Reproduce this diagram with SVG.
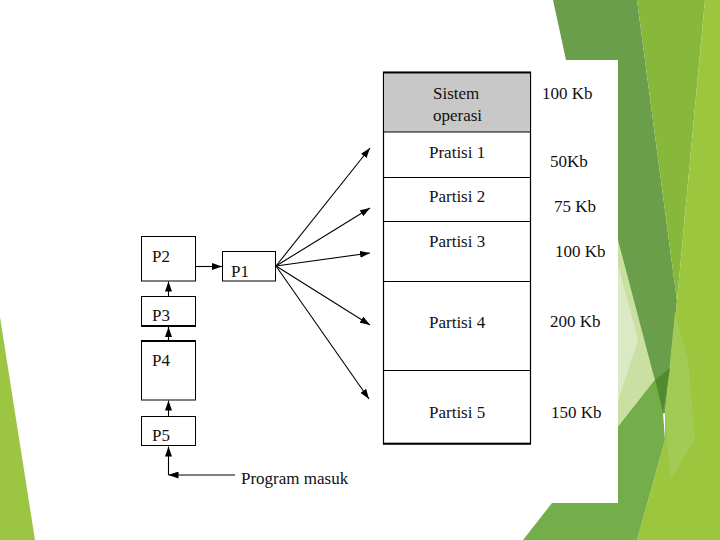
<svg xmlns="http://www.w3.org/2000/svg" width="720" height="540" viewBox="0 0 720 540">
<style>
.t{font-family:"Liberation Serif","Times New Roman",serif;font-size:17px;fill:#111}
.box{fill:#fff;stroke:#000;stroke-width:1}
.ln{fill:none;stroke:#000;stroke-width:1}
.c{fill:none;stroke:#000;stroke-width:1.1}
</style>
<defs>
<marker id="ah" viewBox="0 0 10 7" refX="10" refY="3.5" markerWidth="10" markerHeight="7" markerUnits="userSpaceOnUse" orient="auto">
<path d="M0,0 L10,3.5 L0,7 z" fill="#000"/>
</marker>
</defs>
<g id="background">
<rect width="720" height="540" fill="#fff"/>
<polygon points="553,0 637,0 677,301 665,413 618,430 566,60" fill="#6b9e4a"/>
<polygon points="637,0 705,0 677,301" fill="#88b83b"/>
<polygon points="705,0 720,0 720,540 637,540 665,440 665,413 677,301" fill="#9bc63d"/>
<polygon points="675,313 688,360 695,440 670,480 665,413" fill="#a1cb55"/>
<polygon points="618,240 653,373 655,380 618,427" fill="#c9e0a2"/>
<polygon points="618,265 638,340 618,400" fill="#dbe9c5"/>
<polygon points="655,380 670,368 663,413" fill="#4f8b2f"/>
<polygon points="523,540 552,503 618,503 618,427 655,380 663,413 665,440 637,540" fill="#74ae4b"/>
<polygon points="0,317 35,540 0,540" fill="#9dc544"/>
<rect x="120" y="60" width="498" height="443" fill="#fff"/>
</g>
<g id="memory">
<rect x="383.5" y="72.5" width="147" height="371" fill="#fff" stroke="#000" stroke-width="1.2"/>
<rect x="384" y="73.5" width="146" height="58.5" fill="#c8c8c8"/>
<line x1="383" y1="72.5" x2="531" y2="72.5" stroke="#000" stroke-width="2"/>
<line x1="383" y1="443.8" x2="531" y2="443.8" stroke="#000" stroke-width="2"/>
<line class="ln" x1="383.5" y1="132" x2="530.5" y2="132"/>
<line class="ln" x1="383.5" y1="177.5" x2="530.5" y2="177.5"/>
<line class="ln" x1="383.5" y1="221.5" x2="530.5" y2="221.5"/>
<line class="ln" x1="383.5" y1="281.5" x2="530.5" y2="281.5"/>
<line class="ln" x1="383.5" y1="370.5" x2="530.5" y2="370.5"/>
</g>
<g id="os"><text class="t" x="433" y="99">Sistem</text><text class="t" x="433" y="121">operasi</text></g>
<g id="partisi1"><text class="t" x="429" y="158">Pratisi 1</text></g>
<g id="partisi2"><text class="t" x="429" y="202">Partisi 2</text></g>
<g id="partisi3"><text class="t" x="429" y="247">Partisi 3</text></g>
<g id="partisi4"><text class="t" x="429" y="328">Partisi 4</text></g>
<g id="partisi5"><text class="t" x="429" y="418">Partisi 5</text></g>
<g id="sizes">
<text class="t" x="542" y="99">100 Kb</text>
<text class="t" x="550" y="167">50Kb</text>
<text class="t" x="554" y="212">75 Kb</text>
<text class="t" x="555" y="257">100 Kb</text>
<text class="t" x="550" y="327">200 Kb</text>
<text class="t" x="551" y="418">150 Kb</text>
</g>
<g id="p2"><rect class="box" x="141.5" y="236.5" width="54" height="44.5"/><text class="t" x="152" y="262">P2</text></g>
<g id="p1"><rect class="box" x="222.5" y="251.5" width="53" height="29.5"/><text class="t" x="231" y="277">P1</text></g>
<g id="p3"><rect class="box" x="141.5" y="296.5" width="54" height="29.5"/><line x1="141" y1="326" x2="196" y2="326" stroke="#000" stroke-width="2"/><text class="t" x="152" y="321">P3</text></g>
<g id="p4"><rect class="box" x="141.5" y="341" width="54" height="59"/><line x1="141" y1="341" x2="196" y2="341" stroke="#000" stroke-width="2"/><text class="t" x="152" y="366">P4</text></g>
<g id="p5"><rect class="box" x="141.5" y="416.5" width="54" height="29"/><text class="t" x="152" y="441">P5</text></g>
<g id="program-masuk"><text class="t" x="241" y="484">Program masuk</text></g>
<g id="connectors">
<line class="c" x1="196" y1="266.5" x2="222" y2="266.5" marker-end="url(#ah)"/>
<line class="c" x1="168.5" y1="296" x2="168.5" y2="281.5" marker-end="url(#ah)"/>
<line class="c" x1="168.5" y1="340.5" x2="168.5" y2="327" marker-end="url(#ah)"/>
<line class="c" x1="168.5" y1="416" x2="168.5" y2="400.5" marker-end="url(#ah)"/>
<line class="c" x1="168.5" y1="475" x2="168.5" y2="446.5" marker-end="url(#ah)"/>
<line class="c" x1="235" y1="475" x2="168.5" y2="475" marker-end="url(#ah)"/>
<line class="c" x1="276" y1="266" x2="370" y2="148" marker-end="url(#ah)"/>
<line class="c" x1="276" y1="266" x2="370" y2="208" marker-end="url(#ah)"/>
<line class="c" x1="276" y1="266" x2="370" y2="253" marker-end="url(#ah)"/>
<line class="c" x1="276" y1="266" x2="370" y2="325" marker-end="url(#ah)"/>
<line class="c" x1="276" y1="266" x2="369" y2="399" marker-end="url(#ah)"/>
</g>
</svg>
